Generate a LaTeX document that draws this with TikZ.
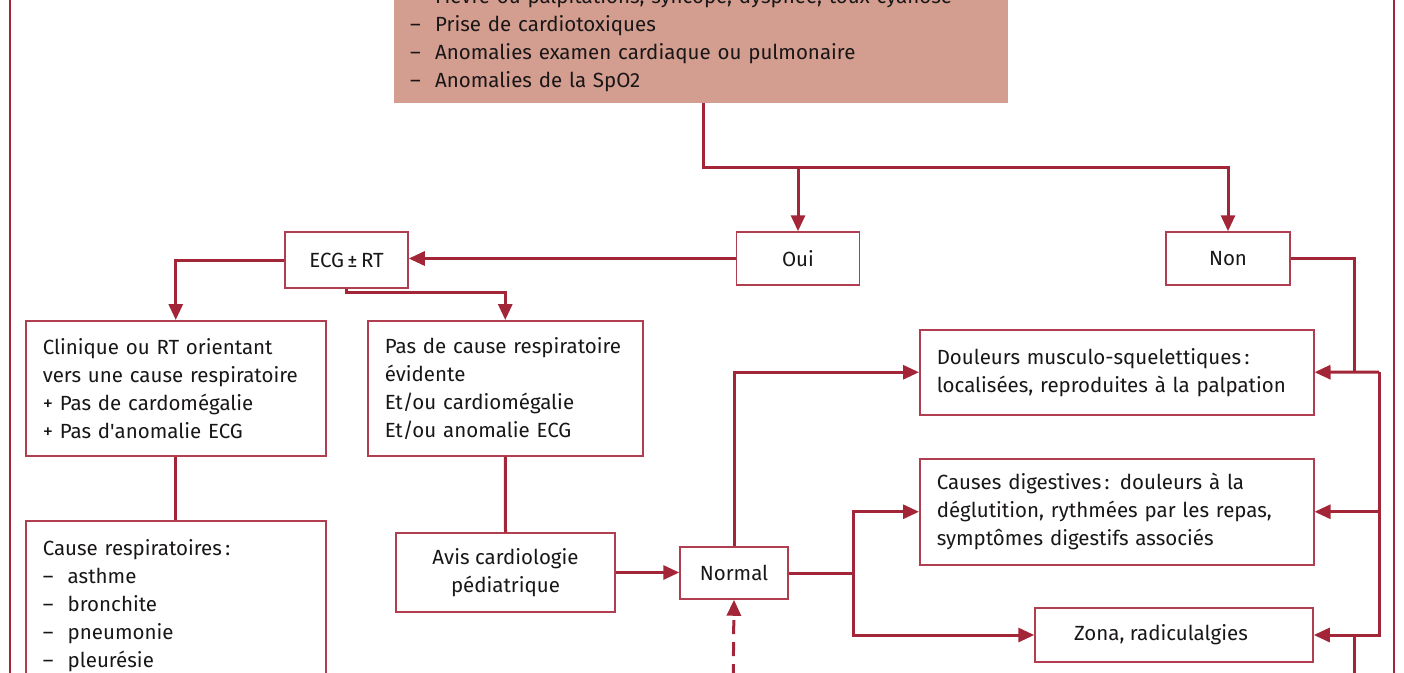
\documentclass[tikz,border=0pt]{standalone}
\usepackage{fontspec}
\setmainfont{Fira Sans}
\usetikzlibrary{arrows.meta}
\definecolor{linec}{RGB}{163,38,56}
\definecolor{boxc}{RGB}{176,62,80}
\definecolor{salmon}{RGB}{211,157,143}
\definecolor{txtc}{RGB}{25,22,24}
\newcommand{\itm}{\makebox[25pt][l]{--}}
\begin{document}
\begin{tikzpicture}[x=1pt,y=-1pt,%
    every node/.style={font=\fontsize{20.5}{28}\selectfont,text=txtc},
    box/.style={draw=boxc,line width=1.5pt,inner xsep=17pt,inner ysep=6pt,
      align=left,anchor=north west},%
    cbox/.style={draw=boxc,line width=1.5pt,align=center,inner sep=0pt},%
    ln/.style={draw=linec,line width=3pt},%
    arr/.style={ln,-{Triangle[length=16pt,width=14pt]}},%
    frame/.style={draw=linec,line width=2pt}]
  \useasboundingbox (0,0) rectangle (1404,672);
  % frame
  \coordinate (f0) at (10,-20); \coordinate (f1) at (1394,-20);
  \draw[frame] (f0) -- ++(0,720); \draw[frame] (f1) -- ++(0,720);
  % boxes
  \node[fill=salmon,anchor=south west,align=left,text width=582pt,inner
  xsep=16pt,inner ysep=11pt] (tb) at (394,103) {\itm Fièvre ou
    palpitations, syncope, dyspnée, toux cyanose\\ \itm Prise de
    cardiotoxiques\\ \itm Anomalies examen cardiaque ou pulmonaire\\ \itm
    Anomalies de la SpO2};
  \node[cbox,minimum width=123pt,minimum height=53pt] (oui) at (798,258.5)
  {Oui}; \node[cbox,minimum width=124pt,minimum height=53pt] (non) at
  (1228,258.5) {Non}; \node[cbox,minimum width=123pt,minimum height=56pt]
  (ecg) at (346.5,260) {ECG\,±\,RT};
  \node[box,text width=266pt,minimum height=135pt] (l1) at (25,320)
  {Clinique ou RT orientant\\ vers une cause respiratoire\\ + Pas de
    cardomégalie\\ + Pas d\textquotesingle anomalie ECG}; \node[box,text
  width=241pt,minimum height=135pt] (l2) at (367,320) {Pas de cause
    respiratoire\\ évidente\\ Et/ou cardiomégalie\\ Et/ou anomalie ECG};
  \node[box,text width=266pt,inner ysep=19pt] (l3) at (25,520) {Cause
    respiratoires\,:\\ \itm asthme\\ \itm bronchite\\ \itm pneumonie\\ \itm
    pleurésie};
  \node[cbox,minimum width=219pt,minimum height=79pt] (avis) at
  (505.5,572.5) {Avis cardiologie\\ pédiatrique}; \node[cbox,minimum
  width=108pt,minimum height=52pt] (nrm) at (734,573) {Normal};
  \node[box,text width=360pt,minimum height=85pt] (l4) at (919,329)
  {Douleurs musculo-squelettiques\,:\\ localisées, reproduites à la
    palpation}; \node[box,text width=360pt,minimum height=106pt] (l5) at
  (919,458) {Causes digestives\,: douleurs à la\\ déglutition, rythmées par
    les repas,\\ symptômes digestifs associés}; \node[cbox,minimum
  width=278pt,minimum height=54pt] (zona) at (1174,635) {\hspace*{-26pt}Zona,
    radiculalgies};
  % connectors
  \coordinate (j0) at (703,167); \coordinate (j1) at (853,573);
  \coordinate (j2) at (1354,372); \coordinate (j3) at (1379,372);
  \coordinate (j4) at (1354,700); \coordinate (d0) at (733,700);
  \draw[arr] (tb.south -| j0) -- (j0) -| (non.north); \draw[arr] (j0 -|
  oui.north) -- (oui.north); \draw[arr] (oui.west) -- (oui.west -|
  ecg.east); \draw[arr] (ecg.west) -| (l1.north); \draw[arr] (ecg.south)
  -- ++(0,4) -| (l2.north); \draw[ln] (l1.south) -- (l3.north); \draw[ln]
  (l2.south) -- (avis.north); \draw[arr] (avis.east) -- (avis.east -|
  nrm.west); \draw[arr,dash pattern=on 14pt off 8pt] (d0) -- (nrm.south);
  \draw[arr] (nrm.north) |- (l4.west); \draw[ln] (nrm.east) -- (j1);
  \draw[arr] (j1) |- (l5.west); \draw[arr] (j1) |- (zona.west);
  \draw[ln] (non.east) -| (j2); \draw[arr] (j3) -- (l4.east); \draw[arr]
  (j3) |- (zona.east); \draw[arr] (j3 |- l5.east) -- (l5.east); \draw[ln]
  (j4) -- (j4 |- zona.east);
\end{tikzpicture}
\end{document}
